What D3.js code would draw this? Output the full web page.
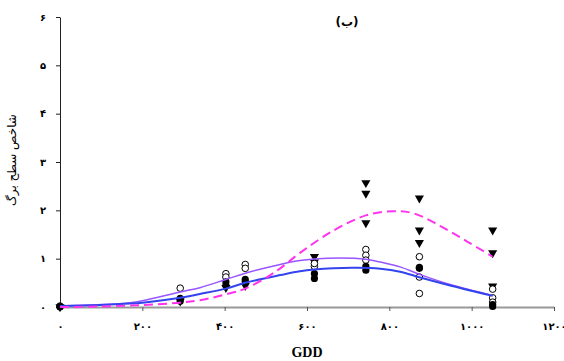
<!DOCTYPE html>
<html lang="fa">
<head>
<meta charset="utf-8">
<title>LAI - GDD</title>
<script src="https://cdnjs.cloudflare.com/ajax/libs/d3/7.8.5/d3.min.js"></script>
<style>
  html, body { margin: 0; padding: 0; background: #fff; }
  svg { display: block; }
  .tick text { font-family: "DejaVu Sans", sans-serif; font-weight: bold; font-size: 10px; fill: #000; }
</style>
</head>
<body>
<div id="chart"></div>
<script>
// ---------- data ----------
const xTicks = [0, 200, 400, 600, 800, 1000, 1200];
const xTickLabels = ["۰", "۲۰۰", "۴۰۰", "۶۰۰", "۸۰۰", "۱۰۰۰", "۱۲۰۰"];
const yTicks = [0, 1, 2, 3, 4, 5, 6];
const yTickLabels = ["۰", "۱", "۲", "۳", "۴", "۵", "۶"];

// observed points (GDD, LAI)
const openX = [0, 292, 403, 403, 450, 450, 618, 618, 743, 743, 743, 873, 873, 873, 1051, 1051, 1051];
const openY = [0.02, 0.39, 0.69, 0.62, 0.88, 0.80, 0.84, 0.90, 1.19, 1.07, 0.97, 1.04, 0.62, 0.28, 0.37, 0.19, 0.10];

const filledX = [0, 0, 292, 292, 403, 403, 450, 450, 618, 618, 743, 743, 873, 873, 1051, 1051];
const filledY = [0, 0.01, 0.18, 0.12, 0.52, 0.45, 0.57, 0.52, 0.69, 0.59, 0.84, 0.76, 0.80, 0.82, 0.01, 0.05];

const triX = [0, 292, 403, 450, 618, 618, 743, 743, 743, 873, 873, 873, 1051, 1051, 1051];
const triY = [0, 0.12, 0.40, 0.44, 1.04, 0.93, 2.57, 2.35, 1.74, 2.25, 1.59, 1.33, 1.59, 1.12, 0.43];

// fitted curves
const purpleX = [0, 100, 170, 200, 292, 340, 403, 450, 535, 583, 650, 743, 778, 826, 875, 950, 1051];
const purpleY = [0.02, 0.05, 0.09, 0.13, 0.31, 0.40, 0.57, 0.70, 0.88, 0.96, 1.01, 0.99, 0.93, 0.83, 0.67, 0.46, 0.24];

const blueX = [0, 100, 170, 200, 292, 340, 403, 450, 535, 583, 664, 720, 778, 826, 875, 950, 1051];
const blueY = [0.02, 0.04, 0.07, 0.09, 0.19, 0.27, 0.38, 0.50, 0.66, 0.74, 0.80, 0.81, 0.79, 0.73, 0.61, 0.44, 0.23];

const magentaX = [0, 100, 200, 292, 340, 420, 450, 503, 535, 583, 664, 745, 808, 858, 923, 988, 1051];
const magentaY = [0, 0.01, 0.04, 0.09, 0.14, 0.30, 0.38, 0.62, 0.80, 1.12, 1.58, 1.90, 1.98, 1.94, 1.68, 1.36, 1.04];

// ---------- layout ----------
const W = 564, H = 361;
const x = d3.scaleLinear().domain([0, 1200]).range([60, 554]);
const y = d3.scaleLinear().domain([0, 6]).range([307, 17]);

const svg = d3.select("#chart").append("svg")
  .attr("width", W).attr("height", H);

// x axis
const xAxis = svg.append("g")
  .attr("transform", "translate(0," + y(0) + ")")
  .call(d3.axisBottom(x).tickValues(xTicks)
    .tickFormat((d, i) => xTickLabels[i]).tickSize(4).tickSizeOuter(0).tickPadding(12));
xAxis.select(".domain").attr("stroke", "#999").attr("stroke-width", 2);
xAxis.selectAll(".tick line").attr("stroke", "#555");

// y axis
const yAxis = svg.append("g")
  .attr("transform", "translate(" + x(0) + ",0)")
  .call(d3.axisLeft(y).tickValues(yTicks)
    .tickFormat((d, i) => yTickLabels[i]).tickSize(4).tickSizeOuter(0).tickPadding(10));
yAxis.select(".domain").attr("stroke", "#222");
yAxis.selectAll(".tick line").attr("stroke", "#222");

// markers
const tri = d3.symbol().type(d3.symbolTriangle).size(36);

svg.append("g").selectAll("path")
  .data(triX.map((d, i) => [d, triY[i]]))
  .join("path")
  .attr("d", tri)
  .attr("transform", d => "translate(" + x(d[0]) + "," + y(d[1]) + ") rotate(180)")
  .attr("fill", "#000");

svg.append("g").selectAll("circle")
  .data(openX.map((d, i) => [d, openY[i]]))
  .join("circle")
  .attr("cx", d => x(d[0])).attr("cy", d => y(d[1])).attr("r", 3.3)
  .attr("fill", "#fff").attr("stroke", "#000").attr("stroke-width", 1);

svg.append("g").selectAll("circle")
  .data(filledX.map((d, i) => [d, filledY[i]]))
  .join("circle")
  .attr("cx", d => x(d[0])).attr("cy", d => y(d[1])).attr("r", 3.6)
  .attr("fill", "#000");

// curves
const line = d3.line().x(d => x(d[0])).y(d => y(d[1])).curve(d3.curveCatmullRom);

svg.append("path")
  .datum(purpleX.map((d, i) => [d, purpleY[i]]))
  .attr("d", line).attr("fill", "none")
  .attr("stroke", "#9955ff").attr("stroke-width", 1.5);

svg.append("path")
  .datum(blueX.map((d, i) => [d, blueY[i]]))
  .attr("d", line).attr("fill", "none")
  .attr("stroke", "#3344ee").attr("stroke-width", 2);

svg.append("path")
  .datum(magentaX.map((d, i) => [d, magentaY[i]]))
  .attr("d", line).attr("fill", "none")
  .attr("stroke", "#ff33ee").attr("stroke-width", 2)
  .attr("stroke-dasharray", "9,5");

// labels
svg.append("text")
  .attr("x", 347).attr("y", 26)
  .attr("text-anchor", "middle")
  .style("font-family", "DejaVu Sans, sans-serif")
  .style("font-weight", "bold").style("font-size", "12px")
  .text("(ب)");

svg.append("text")
  .attr("x", 307).attr("y", 357)
  .attr("text-anchor", "middle")
  .style("font-family", "Liberation Serif, serif")
  .style("font-weight", "bold").style("font-size", "14px")
  .text("GDD");

svg.append("text")
  .attr("transform", "translate(16,160) rotate(-90)")
  .attr("text-anchor", "middle")
  .style("font-family", "DejaVu Sans, sans-serif")
  .style("font-size", "12px")
  .text("شاخص سطح برگ");
</script>
</body>
</html>
